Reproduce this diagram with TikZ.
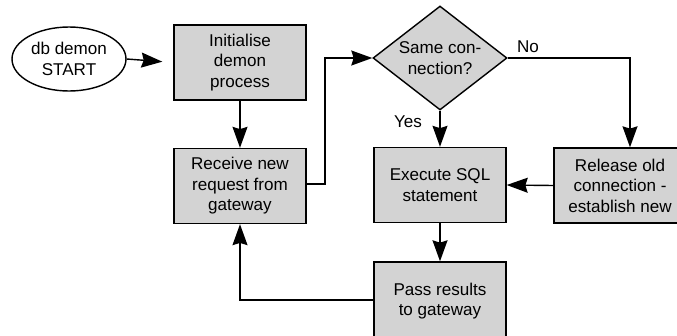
\documentclass[tikz,border=0pt]{standalone}
\usepackage{fontspec}
\setmainfont{Liberation Sans}
\usetikzlibrary{shapes.geometric,arrows.meta}
\definecolor{boxgray}{HTML}{D3D3D3}
\tikzset{
  procbox/.style={draw, fill=boxgray, line width=1.2pt, align=center, inner sep=0pt,
    minimum width=132*0.85pt, minimum height=75*0.85pt,
    font=\fontsize{14.5}{17.4}\selectfont},
  decbox/.style={draw, fill=boxgray, diamond, line width=1.2pt, inner sep=0pt,
    minimum width=134*0.85pt, minimum height=104*0.85pt},
  termnode/.style={draw, fill=white, ellipse, line width=1.2pt, align=center, inner sep=0pt,
    minimum width=114*0.85pt, minimum height=64*0.85pt,
    font=\fontsize{14.5}{17.4}\selectfont},
  txt/.style={align=center, inner sep=0pt, font=\fontsize{14.5}{17.4}\selectfont},
  conn/.style={line width=1.2pt, -{Stealth[length=21*0.85pt, width=15*0.85pt, inset=2pt]}}
}
\begin{document}
\begin{tikzpicture}[x=0.85pt,y=-0.85pt]
\useasboundingbox (0,0) rectangle (677,335);
\clip (0,0) rectangle (677,335);
\node[termnode] (start) at (69,59) {db demon\\START};
\node[procbox] (init) at (240,62.5) {Initialise\\demon\\process};
\node[procbox] (recv) at (240,186) {Receive new\\request from\\gateway};
\node[decbox] (dec) at (440,58) {};
\node[txt] (dectext) at (440,58) {Same con-\\nection?};
\node[procbox] (exec) at (440,185) {Execute SQL\\statement};
\node[procbox] (rel) at (620,185.5) {Release old\\connection -\\establish new};
\node[procbox, minimum height=78*0.85pt] (pass) at (440,301) {Pass results\\to gateway};
\node[txt] (yes) at (408,122) {Yes};
\node[txt] (no) at (528,47) {No};
\coordinate (c1) at (325,184);
\coordinate (c2) at (325,58);
\coordinate (c3) at (630,58);
\coordinate (c4) at (240,300);

\draw[conn, shorten >=11*0.85pt] (start.east) -- (init.west);
\draw[conn] (init.south) -- (recv.north);
\draw[conn] (recv.east |- c1) -- (c1) -- (c2) -- (dec.west);
\draw[conn] (dec.south) -- (exec.north);
\draw[conn] (dec.east) -- (c3) -- (c3 |- rel.north);
\draw[conn] (rel.west) -- (exec.east);
\draw[conn] (exec.south) -- (pass.north);
\draw[conn] (pass.west |- c4) -- (c4) -- (recv.south);
\end{tikzpicture}
\end{document}
